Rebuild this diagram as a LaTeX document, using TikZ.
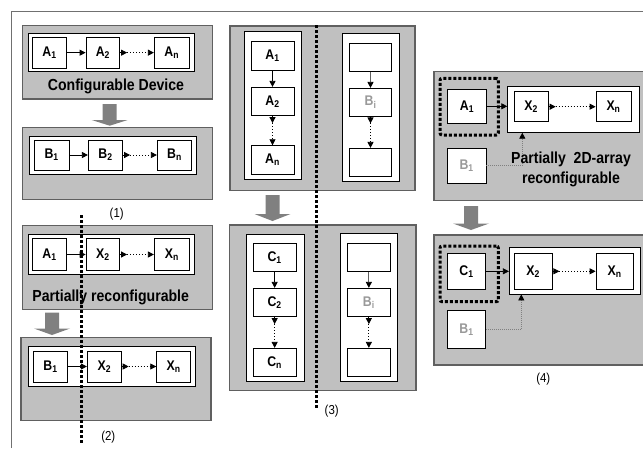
\documentclass[tikz,border=0pt]{standalone}
\usepackage{fontspec}
\newfontfamily\nf[FakeStretch=0.88]{Liberation Sans}
\usetikzlibrary{arrows.meta,calc}
\definecolor{boxgray}{HTML}{C0C0C0}
\definecolor{edgegray}{HTML}{606060}
\definecolor{arrgray}{HTML}{808080}
\definecolor{txtgray}{HTML}{999999}
\definecolor{framegray}{HTML}{707070}
\newcommand\bx[7]{\node[#6, minimum width={#4-#2}, minimum height={#5-#3}] (#1) at ({(#2+#4)/2},{(#3+#5)/2}) {#7};}
\newcommand\garrow[4]{\fill[arrgray] (#1-7,#2) -- (#1+7,#2) -- (#1+7,#4) -- (#1+18,#4) -- (#1,#3) -- (#1-18,#4) -- (#1-7,#4) -- cycle;}
% dotted connector with a leading arrow head: horizontal and vertical
\newcommand\hdotlink[2]{\draw[link] (#1.east) -- ++(7,0) coordinate (#1-o); \draw[dotl] (#1-o) -- (#2.west);}
\newcommand\vdotlink[2]{\draw[link] (#1.south) -- ++(0,7) coordinate (#1-o); \draw[dotl] (#1-o) -- (#2.north);}
\begin{document}
\begin{tikzpicture}[x=1pt,y=-1pt,
  panel/.style={draw=edgegray, fill=boxgray, line width=1.2pt, inner sep=0pt},
  lane/.style={draw=black, fill=white, line width=0.8pt, inner sep=0pt},
  cell/.style={draw=black, fill=white, line width=0.8pt, inner sep=0pt, font=\nf\bfseries\fontsize{14}{14}\selectfont},
  ghost/.style={cell, text=txtgray},
  cutbox/.style={draw=black, line width=3pt, dash pattern=on 3pt off 2pt, rounded corners=2pt, inner sep=0pt},
  cut/.style={draw=black, line width=3pt, dash pattern=on 3pt off 2pt},
  link/.style={-{Triangle[length=6pt,width=6pt]}, line width=0.8pt},
  glink/.style={-{Triangle[length=6pt,width=6pt,color=black]}, draw=edgegray, line width=0.8pt},
  dotl/.style={-{Triangle[length=6pt,width=6pt]}, line width=0.8pt, dash pattern=on 1pt off 2pt},
  feed/.style={-{Triangle[length=6pt,width=6pt,color=black]}, draw=arrgray, line width=0.8pt, dash pattern=on 1pt off 1pt},
  title/.style={font=\nf\bfseries\fontsize{16}{20}\selectfont, align=center, inner sep=0pt},
  caption/.style={font=\nf\fontsize{13}{13}\selectfont, inner sep=0pt}]
\useasboundingbox (0,0) rectangle (643,448);
\clip (0,0) rectangle (643,448);
\draw[framegray, line width=1.3pt] (11.5,448) -- (11.5,11.5) -- (643,11.5);

% ---------- group 1 ----------
\bx{p1a}{22.3}{25.7}{212.3}{99}{panel}{}
\bx{w1a}{28.7}{33.3}{194.3}{71.7}{lane}{}
\bx{a11}{32.3}{37.3}{66.7}{68}{cell}{A\textsubscript{1}}
\bx{a12}{86}{37.3}{119.7}{68}{cell}{A\textsubscript{2}}
\bx{a1n}{154.3}{37.3}{189.3}{68}{cell}{A\textsubscript{n}}
\draw[link] (a11) -- (a12);
\hdotlink{a12}{a1n}
\node[title] (t1) at (116,86.7) {Configurable Device};
\garrow{109.7}{104}{125.7}{120}
\bx{p1b}{22.3}{127.7}{212.3}{199.3}{panel}{}
\bx{w1b}{29.3}{136}{196}{174}{lane}{}
\bx{b11}{34.3}{140}{69}{170}{cell}{B\textsubscript{1}}
\bx{b12}{88.3}{140}{122.7}{170}{cell}{B\textsubscript{2}}
\bx{b1n}{157.3}{140}{191.7}{170}{cell}{B\textsubscript{n}}
\draw[link] (b11) -- (b12);
\hdotlink{b12}{b1n}
\node[caption] (c1) at (116.7,214.3) {(1)};

% ---------- group 2 ----------
\bx{p2a}{22.3}{225.7}{212.3}{309.3}{panel}{}
\bx{w2a}{28}{234}{194.3}{274.3}{lane}{}
\bx{a21}{32.3}{238.3}{66.7}{270.7}{cell}{A\textsubscript{1}}
\bx{x22}{86}{238.3}{119.7}{270.7}{cell}{X\textsubscript{2}}
\bx{x2n}{154.3}{238.3}{189.3}{270.7}{cell}{X\textsubscript{n}}
\draw[link] (a21) -- (x22);
\hdotlink{x22}{x2n}
\node[title] (t2) at (110.7,297.3) {Partially reconfigurable};
\garrow{52}{312.7}{335}{328.5}
\bx{p2b}{21}{337.7}{211}{420.7}{panel}{}
\bx{w2b}{28.3}{346}{195.3}{386}{lane}{}
\bx{b21}{33.3}{351}{67.7}{382}{cell}{B\textsubscript{1}}
\bx{y22}{87.3}{351}{121.3}{382}{cell}{X\textsubscript{2}}
\bx{y2n}{156.7}{351}{190.7}{382}{cell}{X\textsubscript{n}}
\draw[link] (b21) -- (y22);
\hdotlink{y22}{y2n}
\coordinate (cut2a) at (81.7,215);
\coordinate (cut2b) at (81.7,443);
\draw[cut] (cut2a) -- (cut2b);
\node[caption] (c2) at (108.3,436.7) {(2)};

% ---------- group 3 ----------
\bx{p3a}{230}{26}{415}{190.7}{panel}{}
\bx{l3a}{244.3}{31.7}{301.7}{179.3}{lane}{}
\bx{a31}{251}{41}{294}{70.7}{cell}{A\textsubscript{1}}
\bx{a32}{251}{87.3}{294}{115.7}{cell}{A\textsubscript{2}}
\bx{a3n}{251}{145.7}{294}{174}{cell}{A\textsubscript{n}}
\draw[link] (a31) -- (a32);
\vdotlink{a32}{a3n}
\bx{r3a}{342.7}{33.3}{399.3}{181}{lane}{}
\bx{e31}{349.3}{43.3}{391.7}{71.7}{cell}{}
\bx{g31}{349.3}{88.3}{391.7}{116}{ghost}{B\textsubscript{i}}
\bx{e32}{349.3}{148.3}{391.7}{176.7}{cell}{}
\draw[glink] (e31) -- (g31);
\vdotlink{g31}{e32}
\garrow{272.5}{195}{221}{214}
\bx{p3b}{229.3}{225}{416}{390.7}{panel}{}
\bx{l3b}{246.7}{234}{304}{381.7}{lane}{}
\bx{c31}{253.3}{243.3}{296}{271.7}{cell}{C\textsubscript{1}}
\bx{c32}{253.3}{288.3}{296}{316.7}{cell}{C\textsubscript{2}}
\bx{c3n}{253.3}{348.3}{296}{376.7}{cell}{C\textsubscript{n}}
\draw[link] (c31) -- (c32);
\vdotlink{c32}{c3n}
\bx{r3b}{340.7}{233.3}{397.7}{381.7}{lane}{}
\bx{e33}{347.7}{243.3}{390}{271.7}{cell}{}
\bx{g32}{347.7}{288.3}{390}{316.7}{ghost}{B\textsubscript{i}}
\bx{e34}{347.7}{348.3}{390}{376.7}{cell}{}
\draw[glink] (e33) -- (g32);
\vdotlink{g32}{e34}
\coordinate (cut3a) at (316,25);
\coordinate (cut3b) at (316,408);
\draw[cut] (cut3a) -- (cut3b);
\node[caption] (c3) at (331.7,410.7) {(3)};

% ---------- group 4 ----------
\bx{p4a}{434}{71.7}{660}{200.7}{panel}{}
\bx{k4a}{440}{78.3}{498.3}{135}{cutbox}{}
\bx{a41}{447.3}{89.3}{486.7}{123.3}{cell}{A\textsubscript{1}}
\bx{w4a}{507.7}{86}{639.3}{132.3}{lane}{}
\bx{x42}{514}{91.7}{548.3}{121.7}{cell}{X\textsubscript{2}}
\bx{x4n}{596}{91.7}{631}{121.7}{cell}{X\textsubscript{n}}
\bx{b41}{447.3}{148.3}{486}{183.3}{ghost}{B\textsubscript{1}}
\draw[link] (a41) -- (a41 -| w4a.west);
\hdotlink{x42}{x4n}
\draw[feed] (b41.east) -| ($(w4a.south west)+(15,0)$);
\node[title] (t4) at (571,169) {Partially~~2D-array\\reconfigurable};
\garrow{471}{206}{230}{223.5}
\bx{p4b}{434}{235}{660}{365}{panel}{}
\bx{k4b}{440}{246}{498.3}{301.7}{cutbox}{}
\bx{c41}{447.3}{253.3}{485.7}{289.3}{cell}{C\textsubscript{1}}
\bx{w4b}{509.3}{247.7}{640.7}{294}{lane}{}
\bx{y42}{514.3}{253.3}{552}{289.3}{cell}{X\textsubscript{2}}
\bx{y4n}{596}{253.3}{633.3}{289.3}{cell}{X\textsubscript{n}}
\bx{b42}{447.3}{310}{485.7}{348.7}{ghost}{B\textsubscript{1}}
\draw[link] (c41) -- (c41 -| w4b.west);
\hdotlink{y42}{y4n}
\draw[feed] (b42.east) -| ($(w4b.south west)+(12.4,0)$);
\node[caption] (c4) at (543.3,379.3) {(4)};
\end{tikzpicture}
\end{document}
